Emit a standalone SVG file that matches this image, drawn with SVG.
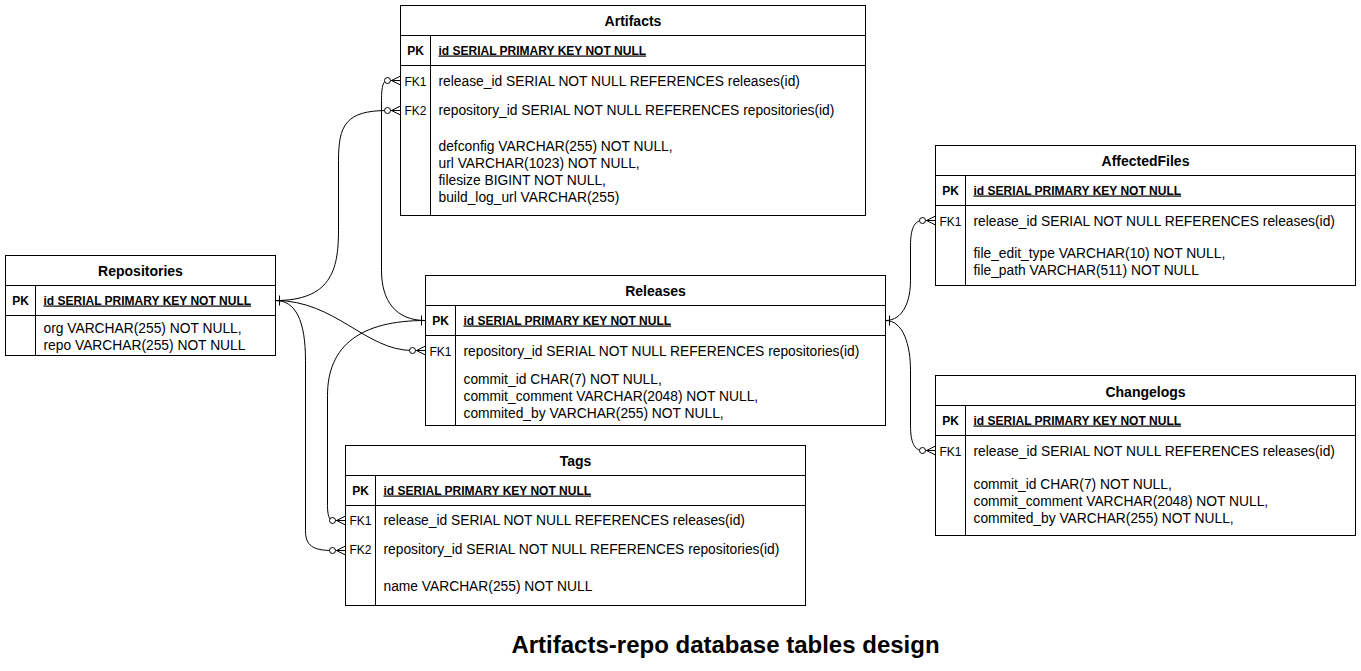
<svg xmlns="http://www.w3.org/2000/svg" width="1361" height="671" viewBox="0 0 1361 671">
<style>
.box{fill:#fff;stroke:#000;stroke-width:1}
.ln{stroke:#000;stroke-width:1;fill:none}
.t{font-family:"Liberation Sans",Arial,sans-serif;font-size:14px;font-weight:bold;fill:#000;text-anchor:middle}
.pk{font-family:"Liberation Sans",Arial,sans-serif;font-size:12px;font-weight:bold;fill:#000}
.pkl{font-family:"Liberation Sans",Arial,sans-serif;font-size:12px;font-weight:bold;fill:#000;text-anchor:middle}
.fk{font-family:"Liberation Sans",Arial,sans-serif;font-size:12px;fill:#000;text-anchor:middle}
.b{font-family:"Liberation Sans",Arial,sans-serif;font-size:13.8px;fill:#000}
.u{text-decoration:underline}
.e{stroke:#000;stroke-width:1;fill:none}
.cap{font-family:"Liberation Sans",Arial,sans-serif;font-size:24px;font-weight:bold;fill:#000;text-anchor:middle}
</style>
<defs>
<marker id="one" markerUnits="userSpaceOnUse" markerWidth="20" markerHeight="20" refX="0" refY="0" orient="auto" overflow="visible">
<path d="M4,-5 L4,5" stroke="#000" stroke-width="1" fill="none"/>
</marker>
<marker id="zmany" markerUnits="userSpaceOnUse" markerWidth="20" markerHeight="20" refX="0" refY="0" orient="auto" overflow="visible">
<path d="M-9,0 L0,-4.5 M-9,0 L0,0 M-9,0 L0,4.5" stroke="#000" stroke-width="1" fill="none"/>
<circle cx="-13" cy="0" r="3" fill="#fff" stroke="#000" stroke-width="1"/>
</marker>
</defs>
<rect width="1361" height="671" fill="#fff"/>
<g transform="translate(0.5,0.5)">
<g id="connectors">
<path class="e" d="M275,300 C330,300 338,270 338,230 L338,160 C338,125 345,110 387,110" marker-start="url(#one)"/>
<path class="e" d="M387,110 L400,110" marker-end="url(#zmany)"/>
<path class="e" d="M425,320 C395,320 381,300 381,270 L381,100 C381,85 383,80 387,80"/>
<path class="e" d="M425,320 L424,320" marker-start="url(#one)"/>
<path class="e" d="M387,80 L400,80" marker-end="url(#zmany)"/>
<path class="e" d="M275,300 C335,300 365,350 412,350"/>
<path class="e" d="M412,350 L425,350" marker-end="url(#zmany)"/>
<path class="e" d="M425,320 C360,320 327,345 327,395 L327,505 C327,515 329,520 332,520"/>
<path class="e" d="M332,520 L345,520" marker-end="url(#zmany)"/>
<path class="e" d="M275,300 C295,300 305,320 305,360 L305,530 C305,545 312,550 332,550"/>
<path class="e" d="M332,550 L345,550" marker-end="url(#zmany)"/>
<path class="e" d="M885,320 C903,320 910,300 910,280 L910,245 C910,228 914,220 922,220" marker-start="url(#one)"/>
<path class="e" d="M922,220 L935,220" marker-end="url(#zmany)"/>
<path class="e" d="M885,320 C903,320 910,345 910,370 L910,425 C910,442 914,450 922,450"/>
<path class="e" d="M922,450 L935,450" marker-end="url(#zmany)"/>
</g>
<g id="artifacts">
<rect class="box" x="400" y="5" width="465" height="210"/>
<path class="ln" d="M400,35 H865 M400,65 H865 M430,35 V215"/>
<text class="t" x="632.5" y="25">Artifacts</text>
<text class="pkl" x="415" y="54">PK</text>
<text class="pk u" x="438" y="54">id SERIAL PRIMARY KEY NOT NULL</text>
<text class="fk" x="415" y="85">FK1</text>
<text class="b" x="438" y="85">release_id SERIAL NOT NULL REFERENCES releases(id)</text>
<text class="fk" x="415" y="114">FK2</text>
<text class="b" x="438" y="114">repository_id SERIAL NOT NULL REFERENCES repositories(id)</text>
<text class="b" x="438" y="150">defconfig VARCHAR(255) NOT NULL,</text>
<text class="b" x="438" y="167">url VARCHAR(1023) NOT NULL,</text>
<text class="b" x="438" y="184">filesize BIGINT NOT NULL,</text>
<text class="b" x="438" y="201">build_log_url VARCHAR(255)</text>
</g>
<g id="repositories">
<rect class="box" x="5" y="255" width="270" height="100"/>
<path class="ln" d="M5,285 H275 M5,315 H275 M35,285 V355"/>
<text class="t" x="140" y="275">Repositories</text>
<text class="pkl" x="20" y="304">PK</text>
<text class="pk u" x="43" y="304">id SERIAL PRIMARY KEY NOT NULL</text>
<text class="b" x="43" y="332">org VARCHAR(255) NOT NULL,</text>
<text class="b" x="43" y="349">repo VARCHAR(255) NOT NULL</text>
</g>
<g id="releases">
<rect class="box" x="425" y="275" width="460" height="150"/>
<path class="ln" d="M425,305 H885 M425,335 H885 M455,305 V425"/>
<text class="t" x="655" y="295">Releases</text>
<text class="pkl" x="440" y="324">PK</text>
<text class="pk u" x="463" y="324">id SERIAL PRIMARY KEY NOT NULL</text>
<text class="fk" x="440" y="355">FK1</text>
<text class="b" x="463" y="355">repository_id SERIAL NOT NULL REFERENCES repositories(id)</text>
<text class="b" x="463" y="383">commit_id CHAR(7) NOT NULL,</text>
<text class="b" x="463" y="400">commit_comment VARCHAR(2048) NOT NULL,</text>
<text class="b" x="463" y="417">commited_by VARCHAR(255) NOT NULL,</text>
</g>
<g id="tags">
<rect class="box" x="345" y="445" width="460" height="160"/>
<path class="ln" d="M345,475 H805 M345,505 H805 M375,475 V605"/>
<text class="t" x="575" y="465">Tags</text>
<text class="pkl" x="360" y="494">PK</text>
<text class="pk u" x="383" y="494">id SERIAL PRIMARY KEY NOT NULL</text>
<text class="fk" x="360" y="524">FK1</text>
<text class="b" x="383" y="524">release_id SERIAL NOT NULL REFERENCES releases(id)</text>
<text class="fk" x="360" y="553">FK2</text>
<text class="b" x="383" y="553">repository_id SERIAL NOT NULL REFERENCES repositories(id)</text>
<text class="b" x="383" y="590">name VARCHAR(255) NOT NULL</text>
</g>
<g id="affectedfiles">
<rect class="box" x="935" y="145" width="420" height="140"/>
<path class="ln" d="M935,175 H1355 M935,205 H1355 M965,175 V285"/>
<text class="t" x="1145" y="165">AffectedFiles</text>
<text class="pkl" x="950" y="194">PK</text>
<text class="pk u" x="973" y="194">id SERIAL PRIMARY KEY NOT NULL</text>
<text class="fk" x="950" y="225">FK1</text>
<text class="b" x="973" y="225">release_id SERIAL NOT NULL REFERENCES releases(id)</text>
<text class="b" x="973" y="257">file_edit_type VARCHAR(10) NOT NULL,</text>
<text class="b" x="973" y="274">file_path VARCHAR(511) NOT NULL</text>
</g>
<g id="changelogs">
<rect class="box" x="935" y="375" width="420" height="160"/>
<path class="ln" d="M935,405 H1355 M935,435 H1355 M965,405 V535"/>
<text class="t" x="1145" y="396">Changelogs</text>
<text class="pkl" x="950" y="424">PK</text>
<text class="pk u" x="973" y="424">id SERIAL PRIMARY KEY NOT NULL</text>
<text class="fk" x="950" y="455">FK1</text>
<text class="b" x="973" y="455">release_id SERIAL NOT NULL REFERENCES releases(id)</text>
<text class="b" x="973" y="488">commit_id CHAR(7) NOT NULL,</text>
<text class="b" x="973" y="505">commit_comment VARCHAR(2048) NOT NULL,</text>
<text class="b" x="973" y="522">commited_by VARCHAR(255) NOT NULL,</text>
</g>
<g id="caption">
<text class="cap" x="725" y="652">Artifacts-repo database tables design</text>
</g>
</g>
</svg>
